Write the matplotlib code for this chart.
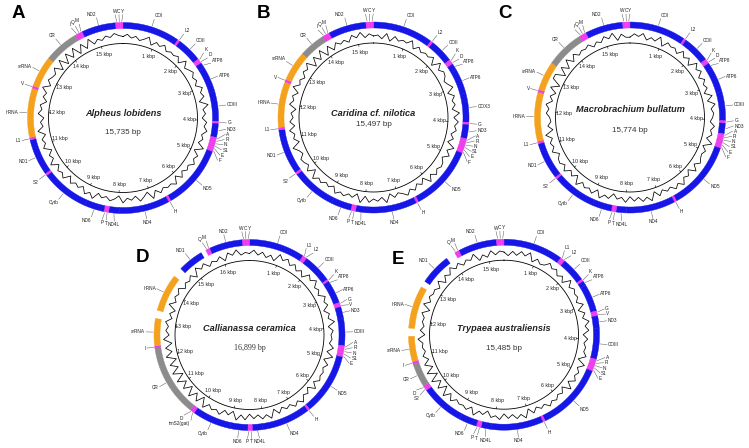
import numpy as np
import matplotlib
matplotlib.use("Agg")
import matplotlib.pyplot as plt
from matplotlib.patches import Polygon

plt.rcParams['font.family'] = ['Liberation Sans', 'DejaVu Sans']

# feature colours
BLUE = '#1616e6'
MAGENTA = '#ee3bee'
ORANGE = '#f4a21e'
GRAY = '#8c8c8c'

# ---------------- A: Alpheus lobidens ----------------
a_len = 15735
a_names = ['COI', 'L2', 'COII', 'K', 'D', 'ATP8', 'ATP6', 'COIII', 'G', 'ND3',
           'A', 'R', 'N', 'S1', 'E', 'F', 'ND5', 'H', 'ND4', 'ND4L', 'T', 'P',
           'ND6', 'Cytb', 'S2', 'ND1', 'L1', 'lrRNA', 'V', 'srRNA', 'CR',
           'I', 'Q', 'M', 'ND2', 'W', 'C', 'Y']
a_start = [0, 1535, 1600, 2270, 2335, 2400, 2560, 3220, 4020, 4085,
           4450, 4515, 4580, 4645, 4710, 4775, 4840, 6555, 6620, 7955, 8250, 8315,
           8380, 8900, 10185, 10250, 11220, 11285, 12600, 12665, 13500,
           14440, 14505, 14570, 14635, 15540, 15605, 15670]
a_end = [1535, 1600, 2270, 2335, 2400, 2560, 3220, 4020, 4085, 4450,
         4515, 4580, 4645, 4710, 4775, 4840, 6555, 6620, 7955, 8250, 8315, 8380,
         8900, 10185, 10250, 11220, 11285, 12600, 12665, 13500, 14440,
         14505, 14570, 14635, 15540, 15605, 15670, 15735]
a_gc = ("5746358264" "7354628357" "4638572946" "3758463927" "5846372856" "4739258364"
        "8257463958" "3647285739" "4628573946" "3857264937" "5481919291" "8293647586")

# ---------------- B: Caridina cf. nilotica ----------------
b_len = 15497
b_names = ['COI', 'L2', 'COII', 'K', 'D', 'ATP8', 'ATP6', 'COX3', 'G', 'ND3',
           'A', 'R', 'N', 'S1', 'E', 'F', 'ND5', 'H', 'ND4', 'ND4L', 'T', 'P',
           'ND6', 'Cytb', 'S2', 'ND1', 'L1', 'lrRNA', 'V', 'srRNA', 'CR',
           'I', 'Q', 'M', 'ND2', 'W', 'C', 'Y']
b_start = [0, 1590, 1655, 2280, 2345, 2410, 2580, 3230, 4000, 4065,
           4430, 4495, 4560, 4625, 4690, 4755, 4820, 6540, 6605, 7920, 8220, 8285,
           8350, 8870, 10050, 10115, 11300, 11365, 12570, 12635, 13430,
           14115, 14180, 14245, 14310, 15300, 15365, 15430]
b_end = [1590, 1655, 2280, 2345, 2410, 2580, 3230, 4000, 4065, 4430,
         4495, 4560, 4625, 4690, 4755, 4820, 6540, 6605, 7920, 8220, 8285, 8350,
         8870, 10050, 10115, 11300, 11365, 12570, 12635, 13430, 14115,
         14180, 14245, 14310, 15300, 15365, 15430, 15497]
b_gc = ("5638274659" "3746582947" "6358274639" "4857362948" "3675849263" "7485362947"
        "5839264758" "3647592846" "7359264837" "4628573946" "3759182918" "2746385947")

# ---------------- C: Macrobrachium bullatum ----------------
c_len = 15774
c_names = a_names
c_start = [0, 1510, 1575, 2300, 2365, 2430, 2590, 3250, 4030, 4095,
           4380, 4445, 4510, 4575, 4640, 4705, 4770, 6610, 6675, 7980, 8260, 8325,
           8390, 8900, 10080, 10145, 11130, 11195, 12510, 12575, 13360,
           14380, 14445, 14510, 14575, 15580, 15645, 15710]
c_end = [1510, 1575, 2300, 2365, 2430, 2590, 3250, 4030, 4095, 4380,
         4445, 4510, 4575, 4640, 4705, 4770, 6610, 6675, 7980, 8260, 8325, 8390,
         8900, 10080, 10145, 11130, 11195, 12510, 12575, 13360, 14380,
         14445, 14510, 14575, 15580, 15645, 15710, 15774]
c_gc = ("4758364927" "5638472958" "3746283957" "6485739264" "5738264958" "4637295847"
        "3846275938" "5749263847" "6385749263" "4758362819" "9182938465" "7364859274")

# ---------------- D: Callianassa ceramica ----------------
d_len = 16899
d_names = ['COI', 'L1', 'L2', 'COII', 'K', 'ATP8', 'ATP6', 'G', 'V', 'ND3', 'COIII',
           'A', 'R', 'N', 'S1', 'E', 'ND5', 'H', 'ND4', 'ND4L', 'T', 'P', 'ND6',
           'Cytb', 'trnS2(gat)', 'D', 'CR', 'I', 'srRNA', 'lrRNA', 'ND1',
           'Q', 'M', 'ND2', 'W', 'C', 'Y']
d_start = [0, 1600, 1665, 1730, 2560, 2625, 2720, 3290, 3355, 3420, 3755,
           4530, 4595, 4660, 4725, 4790, 4855, 6620, 6685, 8075, 8370, 8435, 8500,
           9010, 10115, 10180, 10245, 12300, 12365, 13380, 14740,
           15620, 15685, 15750, 16700, 16765, 16830]
d_end = [1600, 1665, 1730, 2560, 2625, 2720, 3290, 3355, 3420, 3755, 4530,
         4595, 4660, 4725, 4790, 4855, 6620, 6685, 8075, 8370, 8435, 8500, 9010,
         10115, 10180, 10245, 12300, 12365, 13145, 14460, 15470,
         15685, 15750, 16700, 16765, 16830, 16899]
d_gc = ("5847362958" "4736285946" "3857264937" "5648392746" "5738264958" "4637295847"
        "3849263857" "4918291829" "1928193829" "4758362947" "5836472958" "3647285946")

# ---------------- E: Trypaea australiensis ----------------
e_len = 15485
e_names = ['COI', 'L1', 'L2', 'COII', 'K', 'ATP8', 'ATP6', 'G', 'V', 'ND3', 'COIII',
           'A', 'R', 'N', 'S1', 'E', 'ND5', 'H', 'ND4', 'ND4L', 'T', 'P', 'ND6',
           'Cytb', 'S2', 'D', 'CR', 'I', 'srRNA', 'lrRNA', 'ND1',
           'Q', 'M', 'ND2', 'W', 'C', 'Y']
e_start = [0, 1570, 1635, 1700, 2345, 2410, 2515, 3250, 3315, 3380, 3700,
           4515, 4580, 4645, 4710, 4775, 4840, 6645, 6710, 8085, 8345, 8410, 8475,
           8945, 10085, 10150, 10215, 10840, 10905, 11785, 13075,
           14150, 14215, 14280, 15290, 15355, 15420]
e_end = [1570, 1635, 1700, 2345, 2410, 2515, 3250, 3315, 3380, 3700, 4515,
         4580, 4645, 4710, 4775, 4840, 6645, 6710, 8085, 8345, 8410, 8475, 8945,
         10085, 10150, 10215, 10840, 10905, 11570, 12905, 13895,
         14215, 14280, 15290, 15355, 15420, 15485]
e_gc = ("6374859263" "4857362947" "5638274958" "3746582947" "5839264758" "4637295847"
        "3857264937" "5648391829" "1928374659" "3746582947" "5638274958" "4759263847")

R_OUT, R_IN = 95.5, 89.5
R_GC, R_CIRC, R_KB = 81.5, 74.5, 66.5
R_LAB = 104.5


def pt(cx, cy, r, deg):
    t = np.radians(deg)
    return cx + r * np.sin(t), cy - r * np.cos(t)


def kind_color(name):
    if name in ('lrRNA', 'srRNA'):
        return ORANGE
    if name == 'CR':
        return GRAY
    if len(name) <= 2 or name.startswith('trn'):
        return MAGENTA
    return BLUE


def need_sep(n1, n2, phi):
    # angular gap so that two horizontal labels do not collide
    s, c = abs(np.sin(np.radians(phi))), abs(np.cos(np.radians(phi)))
    w = (2.9 * len(n1) + 2.9 * len(n2)) / 2 + 1.0
    vert = 5.2 / (R_LAB * max(s, 1e-3))
    horiz = w / (R_LAB * max(c, 1e-3))
    return np.degrees(min(vert, horiz))


def spread(names, angles):
    a = np.array(angles, float)
    order = np.argsort(a)
    s = a[order].copy()
    nm = [names[i] for i in order]
    for _ in range(600):
        moved = False
        for i in range(len(s) - 1):
            d = s[i + 1] - s[i]
            req = need_sep(nm[i], nm[i + 1], (s[i] + s[i + 1]) / 2)
            if d < req - 1e-6:
                sh = (req - d) / 2
                s[i] -= sh
                s[i + 1] += sh
                moved = True
        if not moved:
            break
    out = np.empty_like(s)
    out[order] = s
    return out


def draw_map(ax, cx, cy, length, names, starts, ends, gc, title, size_txt,
             title_dy=-5, size_dy=14, size_family=None):
    # gc trace
    vals = np.array([int(ch) for ch in gc], float)
    ang = np.arange(len(vals) + 1) * 360.0 / len(vals)
    rr = R_GC + (np.r_[vals, vals[0]] - 5) * 1.15
    x, y = pt(cx, cy, rr, ang)
    ax.plot(x, y, color='black', lw=0.55, zorder=2)

    # inner circle + kbp labels
    th = np.linspace(0, 360, 361)
    x, y = pt(cx, cy, R_CIRC, th)
    ax.plot(x, y, color='black', lw=0.6, zorder=2)
    for k in range(1, int(length // 1000) + 1):
        deg = k * 1000 / length * 360
        x, y = pt(cx, cy, np.array([R_CIRC, R_CIRC - 2]), deg)
        ax.plot(x, y, color='black', lw=0.4)
        tx, ty = pt(cx, cy, R_KB, deg)
        ax.text(tx, ty, f'{k} kbp', fontsize=3.8, ha='center', va='center',
                color='#222222')

    # ring
    mids = []
    for name, s, e in zip(names, starts, ends):
        a0, a1 = s / length * 360, e / length * 360
        mids.append((a0 + a1) / 2)
        t = np.linspace(a0, a1, max(3, int((a1 - a0) * 2)))
        xo, yo = pt(cx, cy, R_OUT, t)
        xi, yi = pt(cx, cy, R_IN, t[::-1])
        col = kind_color(name)
        ax.add_patch(Polygon(np.column_stack([np.r_[xo, xi], np.r_[yo, yi]]),
                             closed=True, fc=col, ec=col, lw=0.3, zorder=3))

    # labels with leader lines
    lab = spread(names, mids)
    for name, m, la in zip(names, mids, lab):
        x0, y0 = pt(cx, cy, R_OUT + 1, m)
        x1, y1 = pt(cx, cy, R_LAB - 1, la)
        ax.plot([x0, x1], [y0, y1], color='#555555', lw=0.35, zorder=1)
        tx, ty = pt(cx, cy, R_LAB, la)
        s_, c_ = np.sin(np.radians(la)), np.cos(np.radians(la))
        ha = 'left' if s_ > 0.25 else ('right' if s_ < -0.25 else 'center')
        va = 'bottom' if c_ > 0.5 else ('top' if c_ < -0.5 else 'center')
        ax.text(tx, ty, name, fontsize=3.4, ha=ha, va=va, color='#222222')

    ax.text(cx, cy + title_dy, title, fontsize=6.6, fontweight='bold',
            fontstyle='italic', ha='center', va='center', color='#222222')
    kw = {}
    if size_family:
        kw['family'] = size_family
    ax.text(cx, cy + size_dy, size_txt, fontsize=5.8, ha='center', va='center',
            color='#333333', **kw)


fig = plt.figure(figsize=(7.49, 4.48), dpi=100)
ax = fig.add_axes([0, 0, 1, 1])
ax.set_xlim(0, 749)
ax.set_ylim(448, 0)
ax.axis('off')

draw_map(ax, 123, 118, a_len, a_names, a_start, a_end, a_gc,
         'Alpheus lobidens', '15,735 bp', -4.5, 15)
draw_map(ax, 373.5, 117.5, b_len, b_names, b_start, b_end, b_gc,
         'Caridina cf. nilotica', '15,497 bp', -4.5, 6.5)
draw_map(ax, 630, 117.5, c_len, c_names, c_start, c_end, c_gc,
         'Macrobrachium bullatum', '15,774 bp', -7.5, 13.5)
draw_map(ax, 249.5, 335, d_len, d_names, d_start, d_end, d_gc,
         'Callianassa ceramica', '16,899 bp', -6.7, 13.3,
         size_family='Liberation Serif')
draw_map(ax, 504, 334.7, e_len, e_names, e_start, e_end, e_gc,
         'Trypaea australiensis', '15,485 bp', -6.4, 13.6)

for letter, lx, ly in [('A', 12, 18.5), ('B', 257, 18.5), ('C', 498, 18.5),
                       ('D', 136, 262), ('E', 392, 264)]:
    ax.text(lx, ly, letter, fontsize=13.5, fontweight='bold', ha='left',
            va='baseline', color='black')

fig.savefig('out.png', dpi=100)
